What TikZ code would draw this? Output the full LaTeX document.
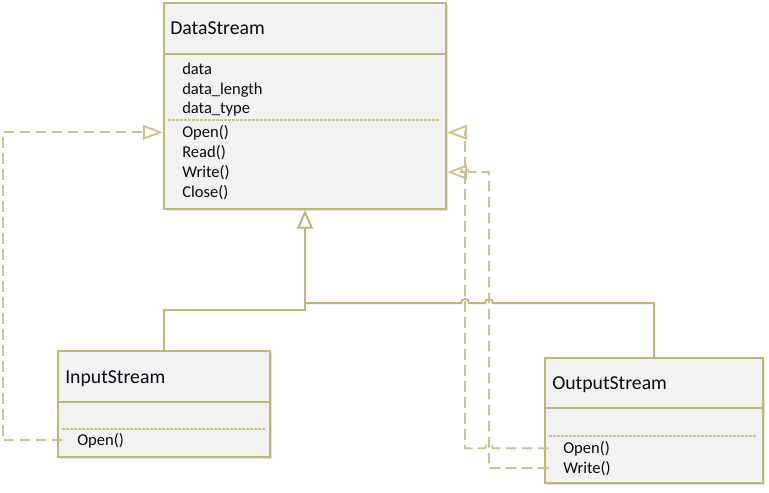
\documentclass[tikz,border=0pt]{standalone}
\usepackage{fontspec}
\setmainfont{Carlito}
\usetikzlibrary{arrows.meta,shadows}

\definecolor{umlline}{RGB}{190,183,122}
\definecolor{umldash}{RGB}{201,195,142}
\definecolor{umlfill}{RGB}{242,242,242}
\definecolor{umltext}{RGB}{10,10,20}

\tikzset{
    classbox/.style={draw=umlline, line width=1.5pt, fill=umlfill, inner sep=0pt,
        anchor=north west,
        drop shadow={shadow xshift=1.5pt, shadow yshift=-1.5pt, fill=black, opacity=0.12}},
    headline/.style={draw=umlline, line width=1.5pt},
    classname/.style={anchor=base west, inner sep=0pt, text=umltext,
        font=\fontsize{14.8}{17}\selectfont},
    member/.style={anchor=base west, inner sep=0pt, text=umltext,
        font=\fontsize{12.4}{14}\selectfont},
    divider/.style={draw=umldash, line width=0.8pt, dash pattern=on 2pt off 1pt},
    realize/.style={draw=umldash, line width=1.4pt, dash pattern=on 8pt off 4pt,
        -{Triangle[open, length=15pt, width=11pt]}},
    inherit/.style={draw=umlline, line width=1.5pt}
}

\begin{document}
\begin{tikzpicture}[x=0.75pt, y=-0.75pt]
        \useasboundingbox (0,0) rectangle (769,493);

        % DataStream
        \node[classbox, minimum width=211.5pt, minimum height=154.5pt] (dsBody) at (163,2) {};
        \draw[headline] (dsBody.west |- 0,54) -- (dsBody.east |- 0,54);
        \node[classname] (dsName) at (170,34) {DataStream};
        \node[member] (dsData) at (182,74) {data};
        \node[member] (dsLength) at (182,94) {data\_length};
        \node[member] (dsType) at (182,113) {data\_type};
        \draw[divider] (168,120) -- (440,120);
        \node[member] (dsOpen) at (182,137) {Open()};
        \node[member] (dsRead) at (182,157) {Read()};
        \node[member] (dsWrite) at (182,177) {Write()};
        \node[member] (dsClose) at (182,197) {Close()};

        % InputStream
        \node[classbox, minimum width=159pt, minimum height=79.5pt] (inBody) at (57,350) {};
        \draw[headline] (inBody.west |- 0,402) -- (inBody.east |- 0,402);
        \node[classname] (inName) at (65,383) {InputStream};
        \draw[divider] (62,429) -- (265,429);
        \node[member] (inOpen) at (77,445) {Open()};

        % OutputStream
        \node[classbox, minimum width=163.5pt, minimum height=93.75pt] (outBody) at (544,357) {};
        \draw[headline] (outBody.west |- 0,408) -- (outBody.east |- 0,408);
        \node[classname] (outName) at (552,389) {OutputStream};
        \draw[divider] (549,436) -- (757,436);
        \node[member] (outOpen) at (563,453) {Open()};
        \node[member] (outWrite) at (563,473) {Write()};

        % Generalization
        \coordinate (split) at (304,303);
        \draw[inherit, {Triangle[open, length=14pt, width=12pt]}-] (dsBody.south) -- ++(0,100) -| (inBody.north);
        \draw[inherit] (split) -- (461,303) arc[start angle=180, end angle=360, radius=4]
            -- (485,303) arc[start angle=180, end angle=360, radius=4] -| (outBody.north);

        % Realizations
        \coordinate (inOpenEnd) at ([xshift=-11pt]inOpen.west);
        \coordinate (outOpenEnd) at ([xshift=-11pt]outOpen.west);
        \coordinate (outWriteEnd) at ([xshift=-11pt]outWrite.west);
        \coordinate (wrHop) at (dsWrite.west -| 469,0);
        \draw[realize] (inOpenEnd) -| (3,0 |- dsOpen.west) -- (dsOpen.west -| dsBody.west);
        \draw[realize] (outOpenEnd) -- (outOpenEnd -| 493,0) arc[start angle=0, end angle=-180, radius=4]
            -- (outOpenEnd -| 465,0) |- (dsOpen.west -| dsBody.east);
        \draw[realize] (outWriteEnd) -| (489,0 |- wrHop) -- (wrHop) arc[start angle=0, end angle=-180, radius=4]
            -- (dsWrite.west -| dsBody.east);
    \end{tikzpicture}
\end{document}
